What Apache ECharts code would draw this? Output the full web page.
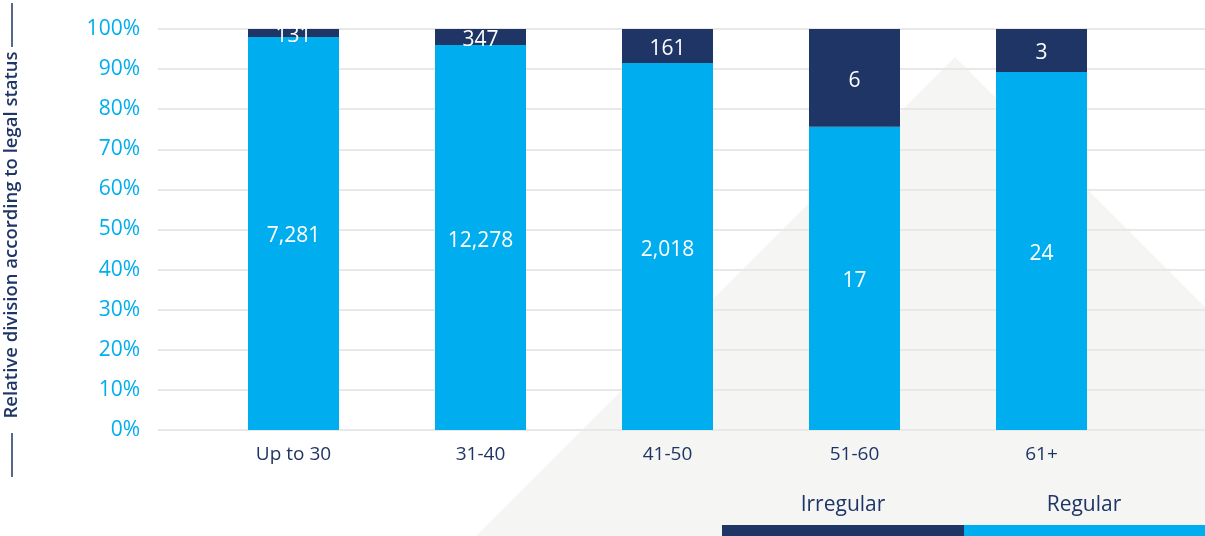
<!DOCTYPE html>
<html>
<head>
<meta charset="utf-8">
<script src="https://cdn.jsdelivr.net/npm/echarts@6/dist/echarts.min.js"></script>
<style>
  html, body { margin: 0; padding: 0; background: #fff; }
  #chart { width: 1205px; height: 536px; }
</style>
</head>
<body>
<div id="chart"></div>
<script>
const categories = ['Up to 30', '31-40', '41-50', '51-60', '61+']
// share in percent
const regularPct = [98.0, 96.0, 91.5, 75.6, 89.3]
const irregularPct = [2.0, 4.0, 8.5, 24.4, 10.7]
// absolute counts shown as labels
const regularCounts = ['7,281', '12,278', '2,018', '17', '24']
const irregularCounts = ['131', '347', '161', '6', '3']
const yTicks = [0, 10, 20, 30, 40, 50, 60, 70, 80, 90, 100]

const NAVY = '#1e3566'
const BLUE = '#00aeef'
const FONT = 'Open Sans'

const chart = echarts.init(document.getElementById('chart'))

function barSeries(name, values, labels, color) {
  return {
    name: name,
    type: 'bar',
    stack: 'total',
    xAxisIndex: 1,
    yAxisIndex: 1,
    barWidth: 91,
    itemStyle: { color: color },
    label: {
      show: true,
      position: 'inside',
      color: '#fff',
      fontFamily: FONT,
      fontSize: 21,
      offset: [0, 3],
      formatter: (p) => labels[p.dataIndex],
    },
    data: values,
  }
}

chart.setOption({
  backgroundColor: '#fff',
  animation: false,
  textStyle: { fontFamily: FONT },
  grid: [
    { left: 158, right: 0, top: 29, bottom: 106, outerBoundsMode: 'none' },
    { left: 200, right: 70, top: 29, bottom: 106, outerBoundsMode: 'none' },
  ],
  xAxis: [
    { type: 'category', gridIndex: 0, data: categories, show: false },
    {
      type: 'category',
      gridIndex: 1,
      data: categories,
      axisLine: { show: false },
      axisTick: { show: false },
      axisLabel: { color: NAVY, fontSize: 19, margin: 15 },
    },
  ],
  yAxis: [
    {
      type: 'value',
      gridIndex: 0,
      min: yTicks[0],
      max: yTicks[yTicks.length - 1],
      interval: 10,
      axisLine: { show: false },
      axisTick: { show: false },
      axisLabel: { color: BLUE, fontSize: 21, fontWeight: 500, margin: 18, formatter: '{value}%' },
      splitLine: { lineStyle: { color: '#e8e8e8', width: 2 } },
    },
    { type: 'value', gridIndex: 1, min: 0, max: 100, show: false },
  ],
  series: [
    barSeries('Regular', regularPct, regularCounts, BLUE),
    barSeries('Irregular', irregularPct, irregularCounts, NAVY),
  ],
  graphic: [
    {
      type: 'polygon',
      z: -10,
      silent: true,
      shape: { points: [[955, 57], [1434, 536], [476, 536]] },
      style: { fill: '#f5f5f4' },
    },
    // y axis title with the two rules above and below it
    {
      type: 'text',
      x: 12,
      y: 235,
      rotation: Math.PI / 2,
      style: {
        text: 'Relative division according to legal status',
        fill: NAVY,
        font: '600 18.5px "Open Sans"',
        textAlign: 'center',
        textVerticalAlign: 'middle',
      },
    },
    { type: 'line', shape: { x1: 12, y1: 3, x2: 12, y2: 47 }, style: { stroke: NAVY, lineWidth: 1.5 } },
    { type: 'line', shape: { x1: 12, y1: 433, x2: 12, y2: 477 }, style: { stroke: NAVY, lineWidth: 1.5 } },
    // legend
    { type: 'text', x: 843, y: 505, style: { text: 'Irregular', fill: NAVY, font: '21px "Open Sans"', textAlign: 'center', textVerticalAlign: 'middle' } },
    { type: 'text', x: 1084, y: 505, style: { text: 'Regular', fill: NAVY, font: '21px "Open Sans"', textAlign: 'center', textVerticalAlign: 'middle' } },
    { type: 'rect', shape: { x: 722, y: 525, width: 242, height: 11 }, style: { fill: NAVY } },
    { type: 'rect', shape: { x: 964, y: 525, width: 241, height: 11 }, style: { fill: BLUE } },
  ],
})

window.addEventListener('resize', () => chart.resize())
</script>
</body>
</html>
